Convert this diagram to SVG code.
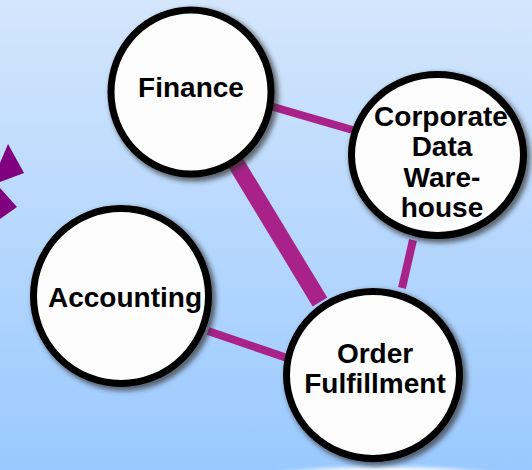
<svg xmlns="http://www.w3.org/2000/svg" width="532" height="470" viewBox="0 0 532 470">
  <defs>
    <linearGradient id="bg" x1="0" y1="0" x2="0" y2="1">
      <stop offset="0" stop-color="#d3e6fc"/>
      <stop offset="1" stop-color="#9ac9ff"/>
    </linearGradient>
    <filter id="shadow" x="-20%" y="-20%" width="140%" height="140%">
      <feGaussianBlur stdDeviation="2.5"/>
    </filter>
    <filter id="glow" x="-20%" y="-50%" width="140%" height="200%">
      <feGaussianBlur stdDeviation="2"/>
    </filter>
    <style>
      .node { fill: #fdfdfd; stroke: #000; stroke-width: 7; }
      .shd { fill: none; stroke: #333; stroke-width: 9; filter: url(#shadow); opacity: 0.7; }
      .lbl { font-family: "Liberation Sans", Arial, sans-serif; font-weight: bold; font-size: 28px; fill: #000; text-anchor: middle; }
      .edge { stroke: #a8228a; fill: none; }
    </style>
  </defs>
  <rect x="0" y="0" width="532" height="470" fill="url(#bg)"/>
  <ellipse cx="385" cy="490" rx="150" ry="23" fill="#ffffff" filter="url(#glow)"/>
  <g id="purple-arrows" fill="#800080">
    <polygon points="0,163 8,144 24,173 0,182"/>
    <polygon points="0,188 17,207 0,219"/>
  </g>
  <g id="connectors">
    <line class="edge" x1="270" y1="106" x2="356" y2="131" stroke-width="8"/>
    <line class="edge" x1="234" y1="160" x2="320" y2="302" stroke-width="17"/>
    <line class="edge" x1="413" y1="240" x2="402" y2="288" stroke-width="8"/>
    <line class="edge" x1="208" y1="331" x2="290" y2="359" stroke-width="8"/>
  </g>
  <g id="finance">
    <ellipse class="shd" cx="194" cy="95" rx="80" ry="82"/>
    <ellipse class="node" cx="191" cy="92" rx="80" ry="82"/>
    <text class="lbl" x="191" y="97">Finance</text>
  </g>
  <g id="corporate-data-warehouse">
    <ellipse class="shd" cx="440" cy="158" rx="86" ry="80.5"/>
    <ellipse class="node" cx="437.5" cy="155" rx="86" ry="80.5"/>
    <text class="lbl" x="441" y="126">Corporate</text>
    <text class="lbl" x="442" y="156">Data</text>
    <text class="lbl" x="442" y="187">Ware-</text>
    <text class="lbl" x="442" y="217">house</text>
  </g>
  <g id="accounting">
    <ellipse class="shd" cx="124" cy="299" rx="87.5" ry="87.5"/>
    <ellipse class="node" cx="121" cy="296" rx="87.5" ry="87.5"/>
    <text class="lbl" x="125" y="307">Accounting</text>
  </g>
  <g id="order-fulfillment">
    <ellipse class="shd" cx="376" cy="378" rx="86.5" ry="83.5"/>
    <ellipse class="node" cx="373" cy="375" rx="86.5" ry="83.5"/>
    <text class="lbl" x="375" y="363">Order</text>
    <text class="lbl" x="375" y="393">Fulfillment</text>
  </g>
</svg>
